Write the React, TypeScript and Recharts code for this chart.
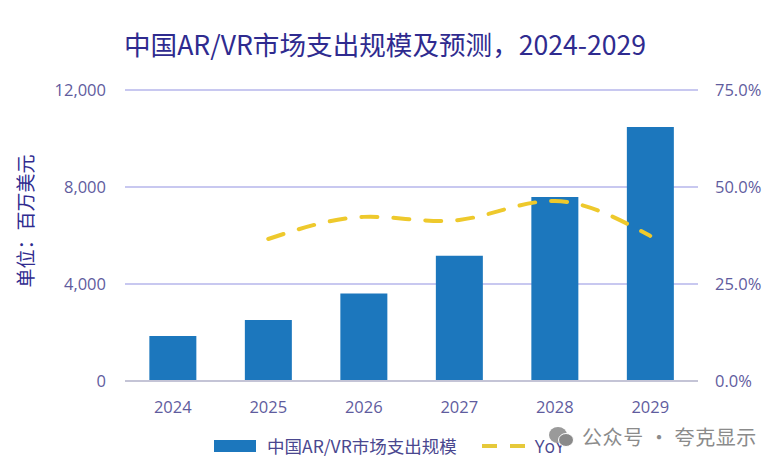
import { Bar, CartesianGrid, ComposedChart, Line, XAxis, YAxis } from 'recharts';

const years = ['2024', '2025', '2026', '2027', '2028', '2029'];
const spending = [1860, 2520, 3610, 5160, 7590, 10470];
const yoy = [null, 36.6, 42.3, 41.5, 46.4, 37.4];
const leftTicks = [0, 4000, 8000, 12000];
const rightTicks = [0, 25, 50, 75];

const chartData = years.map((year, i) => ({
  year,
  spending: spending[i],
  yoy: yoy[i],
}));

const FONT = '"Open Sans", "Noto Sans CJK SC", sans-serif';
const CJK = '"Noto Sans CJK SC", "Open Sans", sans-serif';
const TICK = { fontSize: 16.5, fill: '#5f5c9e', fontFamily: FONT };

export default function App() {
  return (
    <div style={{ position: 'absolute', left: 0, top: 0, width: 779, height: 469, background: '#fff', overflow: 'hidden' }}>
      <div style={{ position: 'absolute', left: 124, top: 26, fontSize: 26.6, color: '#2f2b8f', fontFamily: CJK, whiteSpace: 'nowrap', lineHeight: '36px' }}>
        中国AR/VR市场支出规模及预测，2024-2029
      </div>
      <ComposedChart
        width={779}
        height={469}
        data={chartData}
        margin={{ top: 90, right: 0, bottom: 0, left: 0 }}
        barCategoryGap="25.5%"
      >
        <CartesianGrid horizontal vertical={false} stroke="#c8c8f0" strokeWidth={2} yAxisId="left" />
        <XAxis
          dataKey="year"
          height={88}
          tickLine={false}
          axisLine={{ stroke: '#c4c4d6', strokeWidth: 2 }}
          tickMargin={14}
          tick={TICK}
          interval={0}
        />
        <YAxis
          yAxisId="left"
          width={125}
          domain={[0, 12000]}
          ticks={leftTicks}
          tickFormatter={(v: number) => v.toLocaleString('en-US')}
          tickLine={false}
          axisLine={false}
          tickMargin={13}
          tick={TICK}
          label={{
            value: '单位：百万美元',
            angle: -90,
            position: { x: 24, y: 131 },
            style: { fontSize: 19, fill: '#2f2b8f', fontFamily: CJK, textAnchor: 'middle', dominantBaseline: 'central' },
          }}
        />
        <YAxis
          yAxisId="right"
          orientation="right"
          width={81}
          domain={[0, 75]}
          ticks={rightTicks}
          tickFormatter={(v: number) => `${v.toFixed(1)}%`}
          tickLine={false}
          axisLine={false}
          tickMargin={11}
          tick={TICK}
        />
        <Bar yAxisId="left" dataKey="spending" fill="#1c77bd" isAnimationActive={false} />
        <Line
          yAxisId="right"
          dataKey="yoy"
          type="natural"
          stroke="#eec92c"
          strokeWidth={4}
          strokeDasharray="16 16"
          strokeLinecap="round"
          dot={false}
          activeDot={false}
          isAnimationActive={false}
        />
      </ComposedChart>
      <div style={{ position: 'absolute', left: 214, top: 434, display: 'flex', alignItems: 'center', fontFamily: CJK, fontSize: 17.5, color: '#4a478f', whiteSpace: 'nowrap', lineHeight: '24px' }}>
        <span style={{ width: 42, height: 12, background: '#1c77bd', marginRight: 11 }} />
        <span>中国AR/VR市场支出规模</span>
        <svg width={46} height={6} style={{ marginLeft: 25, marginRight: 7 }}>
          <line x1={0} y1={3} x2={46} y2={3} stroke="#e6c93a" strokeWidth={4} strokeDasharray="15 13" />
        </svg>
        <span style={{ fontFamily: FONT }}>YoY</span>
      </div>
      <div style={{ position: 'absolute', left: 548, top: 424, display: 'flex', alignItems: 'center', fontFamily: CJK, fontSize: 20, color: '#8b8b8b', whiteSpace: 'nowrap', lineHeight: '26px' }}>
        <svg width={26} height={22} viewBox="0 0 26 22" style={{ marginRight: 8 }}>
          <ellipse cx={10} cy={9} rx={9} ry={8} fill="#9a9a9a" />
          <ellipse cx={18} cy={14} rx={7.5} ry={6.5} fill="#8a8a8a" stroke="#fff" />
        </svg>
        <span style={{ letterSpacing: 0.6 }}>公众号 · 夸克显示</span>
      </div>
    </div>
  );
}
